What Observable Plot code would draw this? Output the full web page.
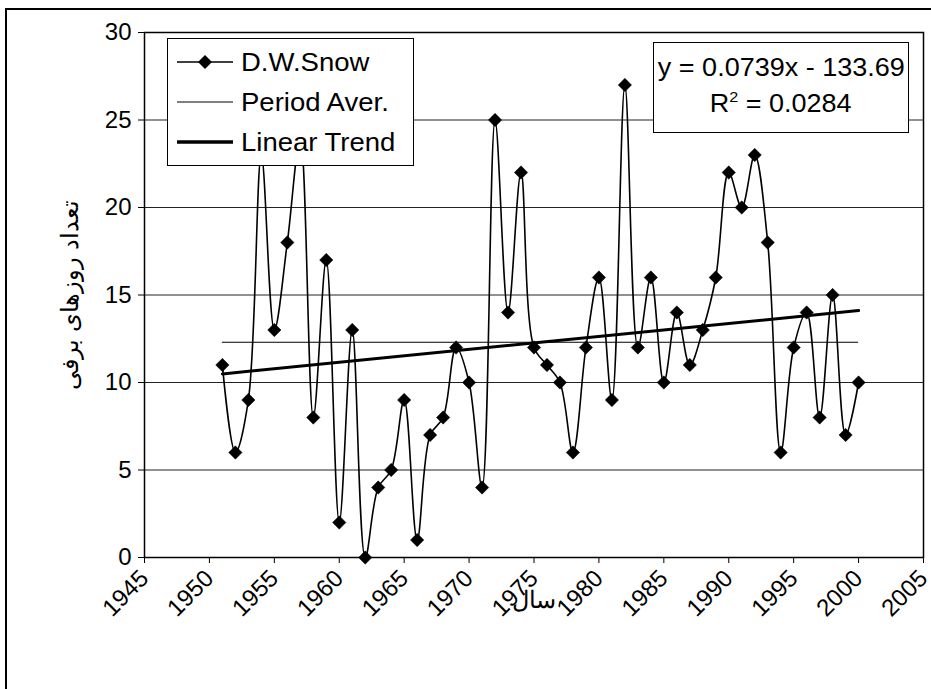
<!DOCTYPE html>
<html><head><meta charset="utf-8">
<script src="https://cdn.jsdelivr.net/npm/d3@7"></script>
<script src="https://cdn.jsdelivr.net/npm/@observablehq/plot@0.6"></script>
<style>
html,body{margin:0;padding:0;background:#fff;overflow:hidden;}
#wrap{position:relative;width:931px;height:689px;overflow:hidden;}
#outer{position:absolute;left:5px;top:8px;width:1000px;height:1000px;border:2px solid #000;}
#chart{position:absolute;left:0;top:0;}
.box{position:absolute;background:#fff;border:1.5px solid #000;font-family:"Liberation Sans",Arial,sans-serif;color:#000;box-sizing:border-box;}
#legend{left:167px;top:38px;width:247px;height:128px;font-size:25px;}
.row{position:absolute;left:0;height:40px;display:flex;align-items:center;white-space:nowrap;}
.row svg{margin-left:9px;margin-right:8px;}
.row span{display:inline-block;transform:scaleX(1.1);transform-origin:left center;}
#eq{left:653px;top:42px;width:256px;height:91px;font-size:25px;text-align:center;}
#eq div{position:absolute;left:0;width:100%;white-space:nowrap;}
#eq span{display:inline-block;transform:scaleX(1.08);}
</style></head><body>
<div id="wrap"><div id="outer"></div><div id="chart"></div><div id="legend" class="box"></div><div id="eq" class="box"></div></div>
<script>
const years = [1951,1952,1953,1954,1955,1956,1957,1958,1959,1960,1961,1962,1963,1964,1965,1966,1967,1968,1969,1970,1971,1972,1973,1974,1975,1976,1977,1978,1979,1980,1981,1982,1983,1984,1985,1986,1987,1988,1989,1990,1991,1992,1993,1994,1995,1996,1997,1998,1999,2000];
const snowDays = [11,6,9,23,13,18,24,8,17,2,13,0,4,5,9,1,7,8,12,10,4,25,14,22,12,11,10,6,12,16,9,27,12,16,10,14,11,13,16,22,20,23,18,6,12,14,8,15,7,10];
const xTicks = [1945,1950,1955,1960,1965,1970,1975,1980,1985,1990,1995,2000,2005];
const yTicks = [0,5,10,15,20,25,30];
const gridValues = [5,10,15,20,25];
const trendSlope = 0.0739;
const trendIntercept = -133.69;
const rSquared = "0.0284";
const legendLabels = ["D.W.Snow","Period Aver.","Linear Trend"];
const xTitle = "سال";
const yTitle = "تعداد روزهای برفی";

const series = years.map((year, i) => ({year, value: snowDays[i]}));
const avg = d3.mean(snowDays);
const yFirst = years[0], yLast = years[years.length - 1];
const trend = [yFirst, yLast].map(x => ({x, y: trendSlope * x + trendIntercept}));

const chart = Plot.plot({
  width: 931, height: 689,
  marginLeft: 144, marginTop: 32, marginRight: 8, marginBottom: 132,
  style: {fontFamily: "Liberation Sans, Arial, sans-serif", fontSize: "24px", color: "#000", background: "transparent", overflow: "visible"},
  x: {domain: [1945, 2005]},
  y: {domain: [0, 30]},
  marks: [
    Plot.ruleY(gridValues, {stroke: "#222", strokeWidth: 1}),
    Plot.ruleY([avg], {x1: yFirst, x2: yLast, stroke: "#000", strokeWidth: 1}),
    Plot.line(trend, {x: "x", y: "y", stroke: "#000", strokeWidth: 3}),
    Plot.line(series, {x: "year", y: "value", curve: "catmull-rom", stroke: "#000", strokeWidth: 1.6}),
    Plot.dot(series, {x: "year", y: "value", symbol: "diamond2", r: 6, fill: "#000", stroke: "#000", strokeWidth: 0.5}),
    Plot.frame({stroke: "#000", strokeWidth: 1.5}),
    Plot.axisY({ticks: yTicks, tickFormat: d => String(d), tickSize: 6, tickPadding: 7, fontSize: 24, label: yTitle, labelAnchor: "center", labelArrow: "none", labelOffset: 84}),
    Plot.axisX({ticks: xTicks, tickFormat: d => String(d), tickSize: 6, tickRotate: -45, tickPadding: 11, fontSize: 24, label: xTitle, labelAnchor: "center", labelArrow: "none", labelOffset: 50})
  ]
});
document.getElementById("chart").appendChild(chart);

// legend
const legend = document.getElementById("legend");
const swatches = [
  `<svg width="56" height="20"><line x1="0" x2="56" y1="10" y2="10" stroke="#000" stroke-width="1.5"/><path d="M28,3L35,10L28,17L21,10Z" fill="#000"/></svg>`,
  `<svg width="56" height="20"><line x1="0" x2="56" y1="10" y2="10" stroke="#000" stroke-width="1"/></svg>`,
  `<svg width="56" height="20"><line x1="0" x2="56" y1="10" y2="10" stroke="#000" stroke-width="3.5"/></svg>`
];
legendLabels.forEach((lab, i) => {
  const r = document.createElement("div");
  r.className = "row";
  r.style.top = (3 + i * 40) + "px";
  r.innerHTML = swatches[i] + `<span>${lab}</span>`;
  legend.appendChild(r);
});

// equation
const eq = document.getElementById("eq");
eq.innerHTML = `<div style="top:10px"><span>y = ${trendSlope}x - ${Math.abs(trendIntercept)}</span></div><div style="top:45px"><span>R<sup style="font-size:15px;vertical-align:10px">2</sup> = ${rSquared}</span></div>`;
</script>
</body></html>
